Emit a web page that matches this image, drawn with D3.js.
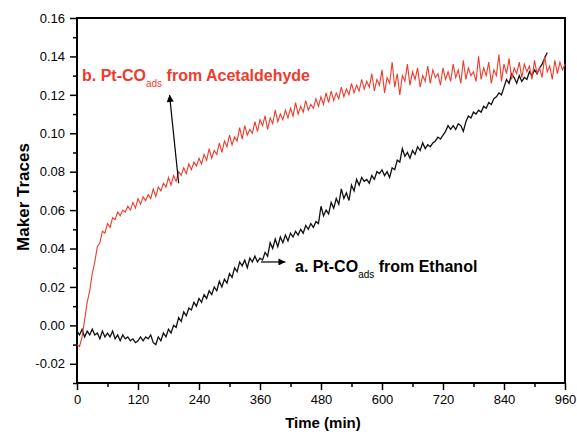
<!DOCTYPE html>
<html>
<head>
<meta charset="utf-8">
<script src="https://cdn.jsdelivr.net/npm/d3@7"></script>
<style>
  body { margin: 0; background: #fff; }
  svg { font-family: 'Liberation Sans', Arial, sans-serif; }
</style>
</head>
<body>
<svg id="chart"></svg>
<script>
// sampling interval of both traces (min)
const sampleStep = 5

// b. Pt-CO(ads) from acetaldehyde, one value every 5 min from t = 0
const acetaldehyde = [
  -0.010, -0.011, -0.006, 0.003, 0.012, 0.018, 0.027, 0.033, 0.041, 0.043,
  0.049, 0.048, 0.053, 0.051, 0.056, 0.055, 0.059, 0.057, 0.060, 0.059,
  0.062, 0.060, 0.064, 0.061, 0.066, 0.063, 0.067, 0.065, 0.068, 0.066,
  0.071, 0.067, 0.072, 0.070, 0.074, 0.072, 0.077, 0.073, 0.078, 0.075,
  0.080, 0.078, 0.082, 0.079, 0.084, 0.081, 0.085, 0.083, 0.087, 0.084,
  0.089, 0.086, 0.092, 0.087, 0.091, 0.089, 0.095, 0.090, 0.096, 0.093,
  0.099, 0.094, 0.098, 0.096, 0.103, 0.097, 0.104, 0.099, 0.102, 0.100,
  0.106, 0.101, 0.107, 0.104, 0.109, 0.102, 0.108, 0.105, 0.112, 0.106,
  0.110, 0.107, 0.112, 0.108, 0.113, 0.109, 0.116, 0.110, 0.114, 0.111,
  0.117, 0.112, 0.115, 0.113, 0.118, 0.114, 0.119, 0.115, 0.121, 0.116,
  0.122, 0.117, 0.121, 0.118, 0.124, 0.119, 0.123, 0.120, 0.126, 0.121,
  0.125, 0.122, 0.128, 0.123, 0.127, 0.124, 0.131, 0.122, 0.128, 0.125,
  0.133, 0.121, 0.129, 0.126, 0.137, 0.124, 0.131, 0.120, 0.130, 0.127,
  0.136, 0.125, 0.132, 0.128, 0.134, 0.124, 0.130, 0.127, 0.135, 0.126,
  0.133, 0.129, 0.131, 0.125, 0.134, 0.128, 0.132, 0.127, 0.136, 0.129,
  0.133, 0.126, 0.138, 0.128, 0.134, 0.130, 0.132, 0.127, 0.140, 0.128,
  0.134, 0.130, 0.137, 0.126, 0.133, 0.130, 0.141, 0.127, 0.136, 0.131,
  0.139, 0.128, 0.134, 0.131, 0.137, 0.129, 0.136, 0.132, 0.135, 0.128,
  0.138, 0.131, 0.134, 0.129, 0.140, 0.132, 0.135, 0.128, 0.138, 0.131,
  0.137, 0.133, 0.136
]

// a. Pt-CO(ads) from ethanol, one value every 5 min from t = 0
const ethanol = [
  -0.003, -0.005, -0.002, -0.006, -0.003, -0.005, -0.002, -0.005, -0.004, -0.007,
  -0.003, -0.006, -0.004, -0.006, -0.003, -0.007, -0.005, -0.008, -0.005, -0.007,
  -0.006, -0.008, -0.007, -0.009, -0.008, -0.006, -0.008, -0.006, -0.007, -0.005,
  -0.009, -0.010, -0.006, -0.008, -0.004, -0.006, -0.002, -0.004, 0.000, -0.001,
  0.004, 0.002, 0.007, 0.005, 0.009, 0.008, 0.012, 0.010, 0.014, 0.012,
  0.016, 0.014, 0.018, 0.016, 0.020, 0.018, 0.023, 0.020, 0.024, 0.022,
  0.027, 0.025, 0.030, 0.028, 0.033, 0.031, 0.034, 0.030, 0.035, 0.033,
  0.036, 0.033, 0.035, 0.034, 0.038, 0.036, 0.043, 0.040, 0.045, 0.041,
  0.046, 0.043, 0.047, 0.044, 0.048, 0.046, 0.049, 0.047, 0.050, 0.048,
  0.052, 0.050, 0.053, 0.051, 0.054, 0.053, 0.062, 0.057, 0.060, 0.058,
  0.064, 0.061, 0.066, 0.063, 0.071, 0.066, 0.069, 0.065, 0.073, 0.070,
  0.076, 0.073, 0.077, 0.075, 0.076, 0.074, 0.078, 0.076, 0.080, 0.079,
  0.081, 0.078, 0.080, 0.077, 0.082, 0.081, 0.086, 0.085, 0.092, 0.088,
  0.090, 0.087, 0.091, 0.089, 0.093, 0.091, 0.095, 0.092, 0.094, 0.093,
  0.095, 0.096, 0.098, 0.097, 0.099, 0.101, 0.104, 0.102, 0.104, 0.102,
  0.105, 0.104, 0.101, 0.106, 0.109, 0.108, 0.111, 0.110, 0.112, 0.111,
  0.114, 0.113, 0.116, 0.115, 0.118, 0.119, 0.121, 0.120, 0.124, 0.128,
  0.126, 0.131, 0.129, 0.126, 0.130, 0.127, 0.129, 0.128, 0.132, 0.130,
  0.133, 0.131, 0.134, 0.136, 0.139, 0.142
]

const xTicks = [0, 120, 240, 360, 480, 600, 720, 840, 960]
const yTicks = [-0.02, 0.00, 0.02, 0.04, 0.06, 0.08, 0.10, 0.12, 0.14, 0.16]

const width = 577
const height = 437
const margin = { top: 18, right: 12, bottom: 54, left: 77 }
const red = '#ef3b2c'

const svg = d3.select('#chart').attr('width', width).attr('height', height)

const x = d3.scaleLinear().domain([0, 960]).range([margin.left, width - margin.right])
const y = d3.scaleLinear().domain([-0.03, 0.16]).range([height - margin.bottom, margin.top])

const fmt = d3.formatLocale({ decimal: '.', thousands: ',', grouping: [3], currency: ['', ''], minus: '-' }).format('.2f')

// minor ticks
const xMinor = d3.range(60, 960, 120)
const yMinor = d3.range(-0.03, 0.16, 0.02).map(v => +v.toFixed(2))

svg.append('g')
  .attr('transform', 'translate(0,' + y.range()[0] + ')')
  .call(d3.axisBottom(x).tickValues(xMinor).tickSize(4).tickFormat(''))
  .call(g => g.select('.domain').remove())
  .selectAll('line').attr('stroke-width', 1.5)

svg.append('g')
  .attr('transform', 'translate(' + x.range()[0] + ',0)')
  .call(d3.axisLeft(y).tickValues(yMinor).tickSize(4).tickFormat(''))
  .call(g => g.select('.domain').remove())
  .selectAll('line').attr('stroke-width', 1.5)

const xAxis = svg.append('g')
  .attr('transform', 'translate(0,' + y.range()[0] + ')')
  .call(d3.axisBottom(x).tickValues(xTicks).tickSize(7).tickPadding(5).tickFormat(d3.format('d')))
xAxis.select('.domain').remove()
xAxis.selectAll('line').attr('stroke-width', 1.5)
xAxis.selectAll('text').attr('font-size', 13).attr('fill', '#000')

const yAxis = svg.append('g')
  .attr('transform', 'translate(' + x.range()[0] + ',0)')
  .call(d3.axisLeft(y).tickValues(yTicks).tickSize(7).tickPadding(5).tickFormat(fmt))
yAxis.select('.domain').remove()
yAxis.selectAll('line').attr('stroke-width', 1.5)
yAxis.selectAll('text').attr('font-size', 13).attr('fill', '#000')

// frame
svg.append('rect')
  .attr('x', x.range()[0])
  .attr('y', y.range()[1])
  .attr('width', x.range()[1] - x.range()[0])
  .attr('height', y.range()[0] - y.range()[1])
  .attr('fill', 'none')
  .attr('stroke', '#000')
  .attr('stroke-width', 2)

const line = d3.line()
  .x((d, i) => x(i * sampleStep))
  .y(d => y(d))

svg.append('path')
  .datum(ethanol)
  .attr('d', line)
  .attr('fill', 'none')
  .attr('stroke', '#111')
  .attr('stroke-width', 1.3)

svg.append('path')
  .datum(acetaldehyde)
  .attr('d', line)
  .attr('fill', 'none')
  .attr('stroke', red)
  .attr('stroke-width', 1.1)

// axis titles
svg.append('text')
  .attr('x', 323)
  .attr('y', 428)
  .attr('text-anchor', 'middle')
  .attr('font-size', 15)
  .attr('font-weight', 'bold')
  .text('Time (min)')

svg.append('text')
  .attr('transform', 'translate(29,197) rotate(-90)')
  .attr('text-anchor', 'middle')
  .attr('font-size', 17)
  .attr('font-weight', 'bold')
  .text('Maker Traces')

// arrow marker
svg.append('defs').append('marker')
  .attr('id', 'head')
  .attr('viewBox', '0 0 10 10')
  .attr('refX', 10)
  .attr('refY', 5)
  .attr('markerWidth', 9)
  .attr('markerHeight', 7)
  .attr('markerUnits', 'userSpaceOnUse')
  .attr('orient', 'auto')
  .append('path')
  .attr('d', 'M0,0L10,5L0,10Z')
  .attr('fill', '#000')

const label = (px, py, color, head, tail) => {
  const t = svg.append('text')
    .attr('x', px)
    .attr('y', py)
    .attr('font-size', 16)
    .attr('font-weight', 'bold')
    .attr('fill', color)
  t.append('tspan').text(head)
  t.append('tspan').attr('dy', 6).attr('font-size', 10).attr('font-weight', 'normal').text('ads')
  t.append('tspan').attr('dy', -6).text(' ' + tail)
}

label(82, 81, red, 'b. Pt-CO', 'from Acetaldehyde')
label(295, 272, '#000', 'a. Pt-CO', 'from Ethanol')

// arrows from the traces to the labels
svg.append('line')
  .attr('x1', x(200)).attr('y1', y(0.074))
  .attr('x2', x(182)).attr('y2', y(0.120))
  .attr('stroke', '#000')
  .attr('stroke-width', 1.2)
  .attr('marker-end', 'url(#head)')

svg.append('line')
  .attr('x1', x(362)).attr('y1', y(0.033))
  .attr('x2', x(410)).attr('y2', y(0.033))
  .attr('stroke', '#000')
  .attr('stroke-width', 1.2)
  .attr('marker-end', 'url(#head)')
</script>
</body>
</html>
